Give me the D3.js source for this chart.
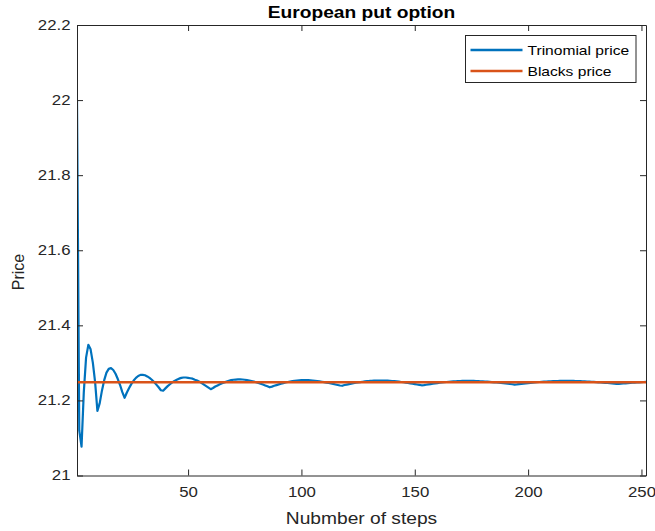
<!DOCTYPE html>
<html>
<head>
<meta charset="utf-8">
<script src="https://cdn.jsdelivr.net/npm/d3@7"></script>
<style>
  html, body { margin: 0; padding: 0; background: #ffffff; }
  svg { display: block; font-family: "Liberation Sans", Arial, Helvetica, sans-serif; }
</style>
</head>
<body>
<svg id="chart" width="655" height="531"></svg>
<script>
// ---------------- data ----------------
const chartTitle = "European put option";
const xLabel = "Nubmber of steps";
const yLabel = "Price";
const seriesNames = ["Trinomial price", "Blacks price"];

// Trinomial tree price for steps 1..252
const trinomialPrice = [
  22.0000, 21.1200, 21.0770, 21.2220, 21.3140, 21.3480, 21.3360, 21.3000, 21.2480, 21.1720,
  21.1920, 21.2260, 21.2540, 21.2740, 21.2840, 21.2860, 21.2810, 21.2710, 21.2570, 21.2410,
  21.2220, 21.2070, 21.2210, 21.2330, 21.2440, 21.2530, 21.2600, 21.2650, 21.2680, 21.2680,
  21.2670, 21.2640, 21.2600, 21.2550, 21.2490, 21.2420, 21.2350, 21.2270, 21.2260, 21.2320,
  21.2380, 21.2430, 21.2480, 21.2520, 21.2550, 21.2580, 21.2600, 21.2610, 21.2610, 21.2600,
  21.2590, 21.2580, 21.2550, 21.2530, 21.2500, 21.2460, 21.2420, 21.2380, 21.2340, 21.2300,
  21.2330, 21.2370, 21.2400, 21.2430, 21.2460, 21.2480, 21.2500, 21.2520, 21.2540, 21.2550,
  21.2556, 21.2560, 21.2560, 21.2557, 21.2551, 21.2542, 21.2531, 21.2517, 21.2501, 21.2484,
  21.2464, 21.2444, 21.2422, 21.2399, 21.2376, 21.2350, 21.2368, 21.2389, 21.2408, 21.2427,
  21.2445, 21.2462, 21.2477, 21.2491, 21.2504, 21.2514, 21.2523, 21.2530, 21.2535, 21.2539,
  21.2540, 21.2540, 21.2538, 21.2534, 21.2530, 21.2523, 21.2516, 21.2508, 21.2498, 21.2488,
  21.2476, 21.2464, 21.2452, 21.2439, 21.2425, 21.2411, 21.2397, 21.2390, 21.2410, 21.2422,
  21.2435, 21.2447, 21.2459, 21.2470, 21.2480, 21.2489, 21.2498, 21.2505, 21.2512, 21.2518,
  21.2522, 21.2526, 21.2528, 21.2530, 21.2530, 21.2530, 21.2529, 21.2525, 21.2521, 21.2517,
  21.2512, 21.2505, 21.2499, 21.2491, 21.2483, 21.2474, 21.2465, 21.2455, 21.2445, 21.2435,
  21.2424, 21.2413, 21.2403, 21.2407, 21.2417, 21.2427, 21.2436, 21.2445, 21.2454, 21.2462,
  21.2470, 21.2477, 21.2484, 21.2491, 21.2497, 21.2502, 21.2507, 21.2511, 21.2514, 21.2516,
  21.2518, 21.2520, 21.2520, 21.2520, 21.2520, 21.2519, 21.2516, 21.2513, 21.2510, 21.2507,
  21.2503, 21.2499, 21.2494, 21.2488, 21.2483, 21.2477, 21.2471, 21.2465, 21.2458, 21.2451,
  21.2444, 21.2437, 21.2430, 21.2423, 21.2425, 21.2432, 21.2439, 21.2446, 21.2453, 21.2460,
  21.2467, 21.2473, 21.2479, 21.2484, 21.2490, 21.2494, 21.2499, 21.2503, 21.2507, 21.2510,
  21.2513, 21.2515, 21.2517, 21.2519, 21.2520, 21.2520, 21.2520, 21.2520, 21.2519, 21.2518,
  21.2516, 21.2514, 21.2512, 21.2509, 21.2506, 21.2503, 21.2500, 21.2496, 21.2492, 21.2488,
  21.2483, 21.2479, 21.2474, 21.2469, 21.2464, 21.2459, 21.2454, 21.2449, 21.2443, 21.2442,
  21.2447, 21.2452, 21.2456, 21.2461, 21.2466, 21.2470, 21.2475, 21.2479, 21.2483, 21.2487,
  21.2491, 21.2494
];
const blacksPrice = 21.2485;

const xTicks = [50, 100, 150, 200, 250];
const yTicks = [21, 21.2, 21.4, 21.6, 21.8, 22, 22.2];
const xDomain = [1, 252];
const yDomain = [21, 22.2];

// ---------------- layout / style ----------------
const plot = { left: 77, right: 646, top: 25, bottom: 475.5 };
const colors = ["#0072BD", "#D95319"];
const axisColor = "#262626";
const stretch = 1.2;   // horizontal text stretch seen in the reference

const svg = d3.select("#chart");
svg.append("rect").attr("width", 655).attr("height", 531).attr("fill", "#fff");

const x = d3.scaleLinear().domain(xDomain).range([plot.left, plot.right]);
const y = d3.scaleLinear().domain(yDomain).range([plot.bottom, plot.top]);

const steps = trinomialPrice.map((d, i) => i + 1);
const trinData = steps.map((s, i) => ({ x: s, y: trinomialPrice[i] }));
const blackData = steps.map(s => ({ x: s, y: blacksPrice }));

// clip
svg.append("clipPath").attr("id", "clip").append("rect")
  .attr("x", plot.left).attr("y", plot.top)
  .attr("width", plot.right - plot.left).attr("height", plot.bottom - plot.top);

const line = d3.line().x(d => x(d.x)).y(d => y(d.y));

const g = svg.append("g").attr("clip-path", "url(#clip)");
g.append("path").datum(trinData).attr("d", line)
  .attr("fill", "none").attr("stroke", colors[0]).attr("stroke-width", 2.2)
  .attr("stroke-linejoin", "round").attr("stroke-linecap", "round");
g.append("path").datum(blackData).attr("d", line)
  .attr("fill", "none").attr("stroke", colors[1]).attr("stroke-width", 2.4);

// axes
function styleAxis(sel) {
  sel.select(".domain").attr("stroke", axisColor).attr("stroke-width", 1);
  sel.selectAll(".tick line").attr("stroke", axisColor).attr("stroke-width", 1);
  sel.selectAll("text").attr("fill", axisColor).attr("font-size", 14)
    .attr("font-family", "'Liberation Sans', Arial, sans-serif");
}

const xAxis = svg.append("g").attr("transform", `translate(0,${plot.bottom})`)
  .call(d3.axisBottom(x).tickValues(xTicks).tickSize(-6).tickSizeOuter(0).tickPadding(12));
styleAxis(xAxis);
xAxis.selectAll("text").attr("transform", `scale(${stretch},1)`);

const xAxisTop = svg.append("g").attr("transform", `translate(0,${plot.top})`)
  .call(d3.axisTop(x).tickValues(xTicks).tickSize(-6).tickSizeOuter(0).tickFormat(""));
styleAxis(xAxisTop);

const yAxis = svg.append("g").attr("transform", `translate(${plot.left},0)`)
  .call(d3.axisLeft(y).tickValues(yTicks).tickSize(-6).tickSizeOuter(0).tickFormat(d3.format("")));
styleAxis(yAxis);
yAxis.selectAll("text").attr("x", 0).attr("transform", `translate(-6.5,0) scale(${stretch},1)`);

const yAxisRight = svg.append("g").attr("transform", `translate(${plot.right},0)`)
  .call(d3.axisRight(y).tickValues(yTicks).tickSize(-6).tickSizeOuter(0).tickFormat(""));
styleAxis(yAxisRight);

// title and labels
svg.append("text")
  .attr("transform", `translate(${(plot.left + plot.right) / 2},18) scale(${stretch},1)`)
  .attr("text-anchor", "middle").attr("font-size", 16).attr("font-weight", "bold")
  .attr("fill", "#000").text(chartTitle);

svg.append("text")
  .attr("transform", `translate(${(plot.left + plot.right) / 2},524) scale(${stretch},1)`)
  .attr("text-anchor", "middle").attr("font-size", 16).attr("fill", axisColor).text(xLabel);

svg.append("text")
  .attr("transform", `translate(24,272) rotate(-90)`)
  .attr("text-anchor", "middle").attr("font-size", 16).attr("fill", axisColor).text(yLabel);

// legend
const legend = svg.append("g").attr("transform", "translate(465.5,35.5)");
legend.append("rect").attr("width", 170.5).attr("height", 47)
  .attr("fill", "#fff").attr("stroke", axisColor).attr("stroke-width", 1);
seriesNames.forEach((name, i) => {
  const ly = 14.5 + i * 21;
  legend.append("line").attr("x1", 5).attr("x2", 57).attr("y1", ly).attr("y2", ly)
    .attr("stroke", colors[i]).attr("stroke-width", 2.4);
  legend.append("text").attr("transform", `translate(62,${ly + 5}) scale(${stretch},1)`)
    .attr("font-size", 13).attr("fill", "#000").text(name);
});
</script>
</body>
</html>
